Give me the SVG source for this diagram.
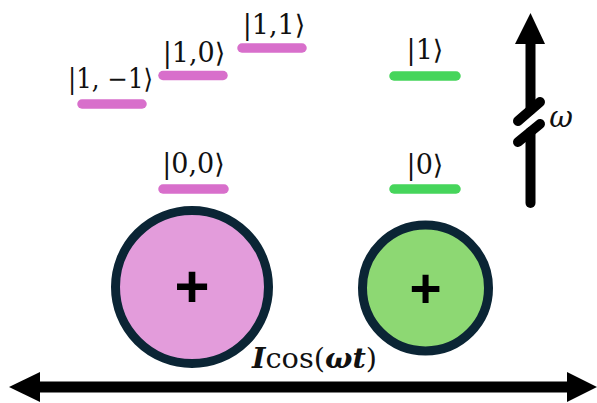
<svg xmlns="http://www.w3.org/2000/svg" width="597" height="403" viewBox="0 0 597 403">
<style>
.lvl{stroke-width:9.5;stroke-linecap:round;fill:none}
.pk{stroke:#d86fcb}
.gn{stroke:#46d55b}
.ket{font-family:"DejaVu Serif","Liberation Serif",serif;font-size:27px;fill:#111;text-anchor:middle}
.atom{stroke:#0b2535;stroke-width:9}
.plus{font-family:"Liberation Sans","DejaVu Sans",sans-serif;font-weight:bold;fill:#000;text-anchor:middle}
.ax{stroke:#000;stroke-width:10;fill:none;stroke-linecap:round}
</style>
<g id="connectors">
<line class="ax" x1="530.5" y1="40" x2="530.5" y2="110" stroke-linecap="butt"/>
<line class="ax" x1="530.5" y1="132" x2="530.5" y2="203"/>
<line class="ax" x1="518" y1="121" x2="540" y2="102" stroke-width="8"/>
<line class="ax" x1="518" y1="142" x2="540" y2="124" stroke-width="8"/>
<polygon points="530.5,13 515,44 545,44" fill="#000"/>
<line x1="38" y1="387" x2="570" y2="387" stroke="#000" stroke-width="11"/>
<polygon points="9,387 40,372 40,402" fill="#000"/>
<polygon points="597,387 567,372 567,402" fill="#000"/>
</g>
<g id="omega"><text x="561" y="127" font-family="DejaVu Serif,Liberation Serif,serif" font-style="italic" font-size="29" text-anchor="middle" fill="#111">ω</text></g>
<g id="current"><text x="314.5" y="368" font-family="DejaVu Serif,Liberation Serif,serif" font-size="27" text-anchor="middle" fill="#111" textLength="125" lengthAdjust="spacingAndGlyphs"><tspan font-weight="bold" font-style="italic">I</tspan>cos(<tspan font-weight="bold" font-style="italic">ωt</tspan>)</text></g>
<g id="state-1m1"><line class="lvl pk" x1="82" y1="104" x2="142" y2="104"/><text class="ket" x="110.5" y="88" textLength="85" lengthAdjust="spacingAndGlyphs">|1, −1⟩</text></g>
<g id="state-10"><line class="lvl pk" x1="163" y1="75.5" x2="223" y2="75.5"/><text class="ket" x="194" y="62">|1,0⟩</text></g>
<g id="state-11"><line class="lvl pk" x1="242" y1="48" x2="302" y2="48"/><text class="ket" x="274" y="34">|1,1⟩</text></g>
<g id="state-00"><line class="lvl pk" x1="163" y1="189" x2="224" y2="189"/><text class="ket" x="193.5" y="173">|0,0⟩</text></g>
<g id="state-1"><line class="lvl gn" x1="394" y1="76" x2="456" y2="76"/><text class="ket" x="425" y="59">|1⟩</text></g>
<g id="state-0"><line class="lvl gn" x1="394" y1="189" x2="456" y2="189"/><text class="ket" x="425" y="174">|0⟩</text></g>
<g id="atom-pink"><circle class="atom" cx="192" cy="287" r="76.5" fill="#e39cdb"/><text class="plus" x="192" y="307" font-size="60">+</text></g>
<g id="atom-green"><circle class="atom" cx="425.5" cy="288" r="63" fill="#8dd873"/><text class="plus" x="425.5" y="307" font-size="55">+</text></g>
</svg>
